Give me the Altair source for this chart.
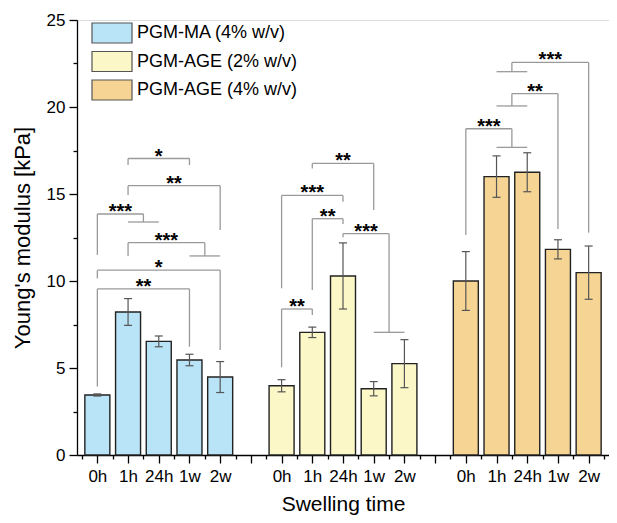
import json
import altair as alt
import pandas as pd

# ---------------- data ----------------
groups = ["PGM-MA (4% w/v)", "PGM-AGE (2% w/v)", "PGM-AGE (4% w/v)"]
times = ["0h", "1h", "24h", "1w", "2w"]
colors = ["#b9e3f6", "#fbf7c7", "#f6d594"]

ma4_mean = [3.45, 8.22, 6.53, 5.46, 4.48]
ma4_err = [0.06, 0.77, 0.31, 0.33, 0.89]
age2_mean = [3.98, 7.05, 10.29, 3.81, 5.25]
age2_err = [0.35, 0.30, 1.90, 0.41, 1.38]
age4_mean = [10.00, 16.00, 16.25, 11.82, 10.48]
age4_err = [1.69, 1.19, 1.12, 0.55, 1.53]

# significance brackets: (x left, x right, top y, left leg end, right leg end, label)
# x in category slots (group1: 1-5, group2: 7-11, group3: 13-17), y in kPa
brackets = [
    (2, 4, 17.04, 16.66, 16.66, "*"),
    (2, 5, 15.48, 14.94, 12.93, "**"),
    (1, 2.5, 13.85, 11.50, 13.39, "***"),
    (2, 4.5, 12.20, 11.44, 11.44, "***"),
    (1, 5, 10.62, 10.15, 6.03, "*"),
    (1, 4, 9.55, 3.93, 6.22, "**"),
    (8, 10, 16.76, 16.47, 14.08, "**"),
    (7, 9, 14.92, 9.58, 14.56, "***"),
    (8, 9, 13.58, 9.48, 13.28, "**"),
    (9, 10.5, 12.72, 12.51, 7.05, "***"),
    (7, 8, 8.39, 5.04, 8.05, "**"),
    (14.5, 17, 22.56, 22.03, 12.78, "***"),
    (14.5, 16, 20.77, 20.06, 12.99, "**"),
    (13, 14.5, 18.75, 12.64, 17.68, "***"),
]
# short horizontal bars that join a bracket leg to a pair of columns: (x from, x to, y)
joins = [
    (2, 3, 13.39),
    (4, 5, 11.44),
    (10, 11, 7.05),
    (14, 15, 22.03),
    (14, 15, 20.06),
    (14, 15, 17.68),
]

y_major = [0, 5, 10, 15, 20, 25]
y_minor = [2.5, 7.5, 12.5, 17.5, 22.5]

# ---------------- tables ----------------
means = [ma4_mean, age2_mean, age4_mean]
errs = [ma4_err, age2_err, age4_err]
slot = len(times) + 1
rows = []
for g, name in enumerate(groups):
    for t, tm in enumerate(times):
        m = means[g][t]
        e = errs[g][t]
        rows.append({"pos": g * slot + t + 1, "group": name, "time": tm,
                     "mean": m, "lo": m - e, "hi": m + e})
bars_df = pd.DataFrame(rows)

segs = []
labels = []
for x1, x2, yt, yl, yr, lab in brackets:
    segs.append({"x": x1, "x2": x2, "y": yt, "y2": yt})
    segs.append({"x": x1, "x2": x1, "y": yt, "y2": yl})
    segs.append({"x": x2, "x2": x2, "y": yt, "y2": yr})
    labels.append({"x": (x1 + x2) / 2, "y": yt, "label": lab})
for a, b, y in joins:
    segs.append({"x": a, "x2": b, "y": y, "y2": y})
seg_df = pd.DataFrame(segs)
lab_df = pd.DataFrame(labels)

n_slots = len(groups) * slot - 1
FONT = "Liberation Sans, Arial, Helvetica, sans-serif"
xscale = alt.Scale(domain=[0.5, n_slots + 0.5], nice=False, zero=False)
yscale = alt.Scale(domain=[0, 25], nice=False)

label_expr = ("datum.value % " + str(slot) + " == 0 ? '' : "
              + json.dumps(times).replace('"', "'")
              + "[(datum.value - 1) % " + str(slot) + "]")

x_major = alt.Axis(values=list(range(1, n_slots + 1)), labelExpr=label_expr,
                   tickSize=8, labelFontSize=17, labelPadding=5, labelFont=FONT,
                   labelColor="black", domainColor="black", tickColor="black",
                   domainWidth=1.3, tickWidth=1.3, grid=False, labelOverlap=False,
                   labelFlush=False, title="Swelling time", titleFont=FONT,
                   titleFontSize=21, titleFontWeight="normal", titleColor="black",
                   titlePadding=9)
y_major_axis = alt.Axis(values=y_major, tickSize=8, labelFontSize=17, labelPadding=4,
                        labelFont=FONT, labelColor="black", domainColor="black",
                        tickColor="black", domainWidth=1.3, tickWidth=1.3, grid=False,
                        title="Young's modulus [kPa]", titleFont=FONT, titleFontSize=22,
                        titleFontWeight="normal", titleColor="black", titlePadding=12)
x_minor = alt.Axis(values=[p + 0.5 for p in range(0, n_slots + 1)], tickSize=4,
                   labels=False, domain=False, tickColor="black", tickWidth=1.3,
                   grid=False, title=None, orient="bottom")
y_minor_axis = alt.Axis(values=y_minor, tickSize=4, labels=False, domain=False,
                        tickColor="black", tickWidth=1.3, grid=False, title=None,
                        orient="left")

legend = alt.Legend(orient="none", legendX=24, legendY=2, title=None,
                    symbolType="M-2,-1H2V1H-2Z", symbolSize=400,
                    symbolStrokeColor="#555555", symbolStrokeWidth=1.2,
                    symbolOpacity=1, labelFontSize=18, labelFont=FONT,
                    labelColor="black", labelOffset=14, labelLimit=400,
                    rowPadding=2.5, padding=0)

bars = alt.Chart(bars_df).mark_bar(size=25, stroke="#222222", strokeWidth=1.4,
                                   opacity=1).encode(
    x=alt.X("pos:Q", scale=xscale, axis=x_major),
    y=alt.Y("mean:Q", scale=yscale, axis=y_major_axis),
    color=alt.Color("group:N", scale=alt.Scale(domain=groups, range=colors),
                    legend=legend),
)

err_rule = alt.Chart(bars_df).mark_rule(color="#555555", strokeWidth=1.2).encode(
    x=alt.X("pos:Q", scale=xscale, axis=None),
    y=alt.Y("lo:Q", scale=yscale, axis=None),
    y2="hi:Q",
)
cap_hi = alt.Chart(bars_df).mark_rule(color="#555555", strokeWidth=1.2,
                                      xOffset=-4, x2Offset=4).encode(
    x=alt.X("pos:Q", scale=xscale, axis=None),
    x2="pos:Q",
    y=alt.Y("hi:Q", scale=yscale, axis=None),
)
cap_lo = alt.Chart(bars_df).mark_rule(color="#555555", strokeWidth=1.2,
                                      xOffset=-4, x2Offset=4).encode(
    x=alt.X("pos:Q", scale=xscale, axis=None),
    x2="pos:Q",
    y=alt.Y("lo:Q", scale=yscale, axis=None),
)

brk = alt.Chart(seg_df).mark_rule(color="#9a9a9a", strokeWidth=1.3).encode(
    x=alt.X("x:Q", scale=xscale, axis=x_minor),
    x2="x2:Q",
    y=alt.Y("y:Q", scale=yscale, axis=y_minor_axis),
    y2="y2:Q",
)

stars = alt.Chart(lab_df).mark_text(font=FONT, fontSize=20, fontWeight="bold",
                                    color="black", baseline="alphabetic", dy=4).encode(
    x=alt.X("x:Q", scale=xscale, axis=None),
    y=alt.Y("y:Q", scale=yscale, axis=None),
    text="label:N",
)

chart = alt.layer(bars, brk, err_rule, cap_hi, cap_lo, stars).resolve_axis(
    x="independent", y="independent"
).properties(
    width=532, height=435,
    autosize=alt.AutoSizeParams(type="none"),
    padding={"left": 69, "top": 12, "right": 0, "bottom": 60},
).configure_view(stroke=None).configure(background="white")

chart.save("out.html", embed_options={"renderer": "svg", "actions": False})
